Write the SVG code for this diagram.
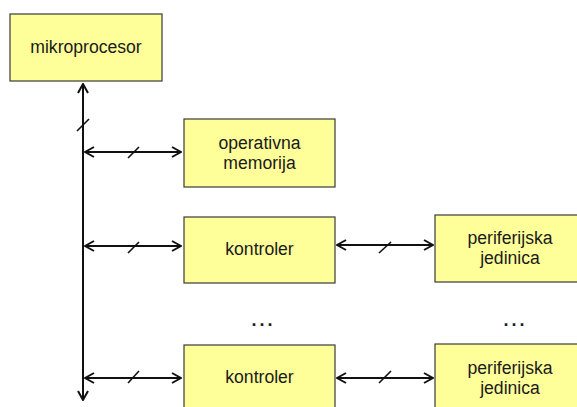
<svg xmlns="http://www.w3.org/2000/svg" width="577" height="407" viewBox="0 0 577 407">
  <style>
    .box { fill: #ffff99; stroke: #3a3a3a; stroke-width: 1.2; }
    .lbl { font-family: "Liberation Sans", Arial, sans-serif; font-size: 17.6px; fill: #1a1a1a; text-anchor: middle; }
    .wire { stroke: #111; stroke-width: 2; fill: none; }
    .tick { stroke: #111; stroke-width: 1.6; }
    .dots { font-family: "Liberation Sans", Arial, sans-serif; font-size: 18px; font-weight: bold; fill: #222; text-anchor: middle; letter-spacing: 3px; }
  </style>
  <defs>
    <marker id="head" viewBox="-11 -6 12 12" markerWidth="12" markerHeight="12" refX="0" refY="0" orient="auto-start-reverse" markerUnits="userSpaceOnUse">
      <path d="M-9,-5 L0,0 L-9,5" fill="none" stroke="#111" stroke-width="2"/>
    </marker>
  </defs>

  <rect width="577" height="407" fill="#ffffff"/>

  <!-- system bus and links -->
  <g id="connectors">
    <line class="wire" x1="83" y1="84" x2="83" y2="400" marker-start="url(#head)" marker-end="url(#head)"/>
    <line class="tick" x1="77" y1="131" x2="89" y2="119"/>

    <line class="wire" x1="85" y1="152" x2="181" y2="152" marker-start="url(#head)" marker-end="url(#head)"/>
    <line class="tick" x1="128" y1="158" x2="139" y2="147"/>

    <line class="wire" x1="85" y1="246" x2="181" y2="246" marker-start="url(#head)" marker-end="url(#head)"/>
    <line class="tick" x1="128" y1="253" x2="139" y2="242"/>

    <line class="wire" x1="337" y1="245" x2="433" y2="245" marker-start="url(#head)" marker-end="url(#head)"/>
    <line class="tick" x1="379" y1="253" x2="391" y2="242"/>

    <line class="wire" x1="85" y1="378" x2="181" y2="378" marker-start="url(#head)" marker-end="url(#head)"/>
    <line class="tick" x1="128" y1="383" x2="139" y2="371"/>

    <line class="wire" x1="337" y1="378" x2="433" y2="378" marker-start="url(#head)" marker-end="url(#head)"/>
    <line class="tick" x1="379" y1="383" x2="391" y2="371"/>
  </g>

  <g id="mikroprocesor">
    <rect class="box" x="10" y="14" width="152" height="67"/>
    <text class="lbl" x="86" y="53">mikroprocesor</text>
  </g>

  <g id="operativna-memorija">
    <rect class="box" x="184" y="119" width="151" height="68"/>
    <text class="lbl" x="259.5" y="149">operativna</text>
    <text class="lbl" x="259.5" y="169">memorija</text>
  </g>

  <g id="kontroler-1">
    <rect class="box" x="184" y="217" width="151" height="66"/>
    <text class="lbl" x="259.5" y="255">kontroler</text>
  </g>

  <g id="periferijska-jedinica-1">
    <rect class="box" x="435" y="215" width="150" height="67"/>
    <text class="lbl" x="510" y="244">periferijska</text>
    <text class="lbl" x="510" y="264">jedinica</text>
  </g>

  <text class="dots" x="263.5" y="326">...</text>
  <text class="dots" x="515.5" y="326">...</text>

  <g id="kontroler-2">
    <rect class="box" x="184" y="345" width="151" height="70"/>
    <text class="lbl" x="259.5" y="383">kontroler</text>
  </g>

  <g id="periferijska-jedinica-2">
    <rect class="box" x="435" y="344" width="150" height="70"/>
    <text class="lbl" x="510" y="374">periferijska</text>
    <text class="lbl" x="510" y="394">jedinica</text>
  </g>
</svg>
